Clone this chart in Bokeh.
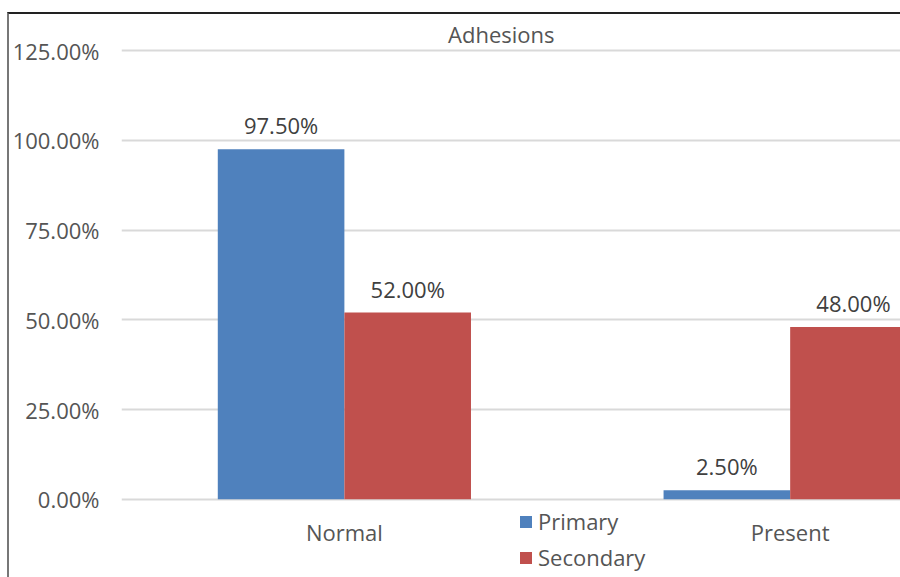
from bokeh.plotting import figure
from bokeh.models import (ColumnDataSource, Range1d, FixedTicker, PrintfTickFormatter,
                          Legend, LegendItem, Label)
from bokeh.core.properties import value
from bokeh.embed import file_html
from bokeh.resources import INLINE

# Data
categories = ["Normal", "Present"]
primary = [97.5, 2.5]
secondary = [52.0, 48.0]
y_ticks = [0, 25, 50, 75, 100, 125]
title_text = "Adhesions"

FONT = "Open Sans"
BLUE = "#4F81BD"
RED = "#C0504D"

centers = [i + 0.5 for i in range(len(categories))]
bar_w = 0.284

src_p = ColumnDataSource(dict(
    x=[c - bar_w / 2 for c in centers], top=primary,
    label=[f"{v:.2f}%" for v in primary]))
src_s = ColumnDataSource(dict(
    x=[c + bar_w / 2 for c in centers], top=secondary,
    label=[f"{v:.2f}%" for v in secondary]))

# the plot area runs to the bottom edge; the category axis sits at y = 0
p = figure(width=891, height=563, output_backend="svg", toolbar_location=None,
           x_range=Range1d(0, 1.752), y_range=Range1d(-22.37, 135.07),
           min_border_left=112, min_border_right=0, min_border_top=0,
           min_border_bottom=0, margin=(12, 0, 0, 7))
p.styles = {"border-top": "2px solid #222222", "border-left": "2px solid #777777",
            "border-right": "none", "border-bottom": "none",
            "box-sizing": "content-box", "outline": "none"}
p.outline_line_color = None
p.background_fill_color = "white"
p.border_fill_color = "white"

# grid
p.xgrid.grid_line_color = None
p.ygrid.ticker = FixedTicker(ticks=y_ticks)
p.ygrid.grid_line_color = "#D9D9D9"
p.ygrid.grid_line_width = 2

# y axis
p.yaxis.ticker = FixedTicker(ticks=y_ticks)
p.yaxis.formatter = PrintfTickFormatter(format="%.2f%%")
p.yaxis.axis_line_color = None
p.yaxis.major_tick_line_color = None
p.yaxis.minor_tick_line_color = None
p.yaxis.major_tick_out = 0
p.yaxis.major_tick_in = 0
p.yaxis.minor_tick_out = 0
p.yaxis.major_label_standoff = 22
p.yaxis.major_label_text_font = FONT
p.yaxis.major_label_text_font_size = "22px"
p.yaxis.major_label_text_color = "#555555"

# x axis, pinned at the zero line
p.xaxis.fixed_location = 0
p.xaxis.ticker = FixedTicker(ticks=centers)
p.xaxis.major_label_overrides = {c: name for c, name in zip(centers, categories)}
p.xaxis.axis_line_color = None
p.xaxis.major_tick_line_color = None
p.xaxis.minor_tick_line_color = None
p.xaxis.major_tick_out = 0
p.xaxis.major_tick_in = 0
p.xaxis.minor_tick_out = 0
p.xaxis.major_label_standoff = 18
p.xaxis.major_label_text_font = FONT
p.xaxis.major_label_text_font_size = "22px"
p.xaxis.major_label_text_color = "#555555"

r_p = p.vbar(x="x", top="top", width=bar_w, bottom=0, source=src_p,
             fill_color=BLUE, line_color=None)
r_s = p.vbar(x="x", top="top", width=bar_w, bottom=0, source=src_s,
             fill_color=RED, line_color=None)

for src in (src_p, src_s):
    p.text(x="x", y="top", text="label", source=src, text_align="center",
           text_baseline="middle", y_offset=-24, text_font=value(FONT),
           text_font_size="22px", text_color="#404040")

p.add_layout(Label(x=0.852, y=129.5, text=title_text, text_align="center",
                   text_baseline="middle", text_font=FONT,
                   text_font_size="22px", text_color="#555555"))

legend = Legend(items=[LegendItem(label="Primary", renderers=[r_p]),
                       LegendItem(label="Secondary", renderers=[r_s])],
                location=(397, 7), orientation="vertical",
                glyph_width=15, glyph_height=15, label_standoff=5,
                label_height=30, spacing=6, padding=0, margin=0,
                label_text_font=FONT, label_text_font_size="22px",
                label_text_color="#555555", background_fill_alpha=0,
                border_line_color=None)
p.add_layout(legend, "center")

open("out.html", "w").write(file_html(p, INLINE))
